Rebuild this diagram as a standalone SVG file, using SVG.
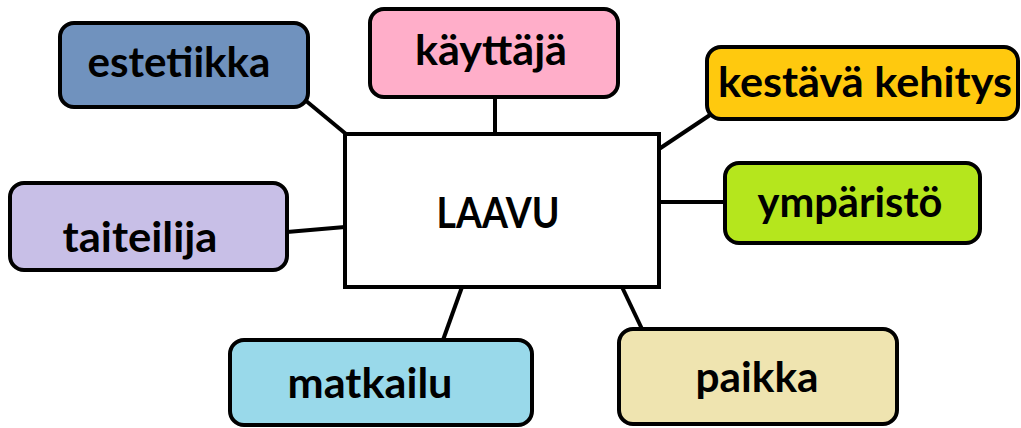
<svg xmlns="http://www.w3.org/2000/svg" width="1021" height="428" viewBox="0 0 1021 428">
<style>
.box{stroke:#000;stroke-width:4}
.lbl{font-family:Lato,"Open Sans","Liberation Sans",sans-serif;font-weight:bold;font-size:42px;fill:#000;text-anchor:middle}
.con{stroke:#000;stroke-width:4;fill:none}
</style>
<rect width="1021" height="428" fill="#fff"/>
<g id="connectors">
<line class="con" x1="305" y1="100" x2="346" y2="134"/>
<line class="con" x1="495" y1="97" x2="495" y2="134"/>
<line class="con" x1="710" y1="115" x2="659" y2="149"/>
<line class="con" x1="659" y1="202" x2="725" y2="202"/>
<line class="con" x1="287" y1="232" x2="345" y2="227"/>
<line class="con" x1="462" y1="287" x2="443" y2="340"/>
<line class="con" x1="622" y1="287" x2="642" y2="329"/>
</g>
<g id="center">
<rect class="box" x="345" y="134" width="314" height="153" fill="#fff"/>
<text class="lbl" x="498" y="228" textLength="123" lengthAdjust="spacingAndGlyphs">LAAVU</text>
</g>
<g id="estetiikka">
<rect class="box" x="60" y="23" width="248" height="84" rx="14" fill="#7092BE"/>
<text class="lbl" x="179" y="77" textLength="183" lengthAdjust="spacingAndGlyphs">estetiikka</text>
</g>
<g id="kayttaja">
<rect class="box" x="370" y="9" width="248" height="88" rx="14" fill="#FFAEC9"/>
<text class="lbl" x="491" y="65" textLength="152" lengthAdjust="spacingAndGlyphs">käyttäjä</text>
</g>
<g id="kestava">
<rect class="box" x="707" y="47" width="311" height="72" rx="14" fill="#FFC90E"/>
<text class="lbl" x="865" y="97" textLength="294" lengthAdjust="spacingAndGlyphs">kestävä kehitys</text>
</g>
<g id="ymparisto">
<rect class="box" x="725" y="163" width="255" height="80" rx="14" fill="#B5E61D"/>
<text class="lbl" x="850" y="217" textLength="185" lengthAdjust="spacingAndGlyphs">ympäristö</text>
</g>
<g id="taiteilija">
<rect class="box" x="10" y="183" width="277" height="87" rx="14" fill="#C8BFE7"/>
<text class="lbl" x="140" y="252" textLength="155" lengthAdjust="spacingAndGlyphs">taiteilija</text>
</g>
<g id="matkailu">
<rect class="box" x="230" y="340" width="302" height="85" rx="14" fill="#99D9EA"/>
<text class="lbl" x="370" y="398" textLength="165" lengthAdjust="spacingAndGlyphs">matkailu</text>
</g>
<g id="paikka">
<rect class="box" x="619" y="329" width="278" height="95" rx="14" fill="#EFE4B0"/>
<text class="lbl" x="757" y="392" textLength="123" lengthAdjust="spacingAndGlyphs">paikka</text>
</g>
</svg>
